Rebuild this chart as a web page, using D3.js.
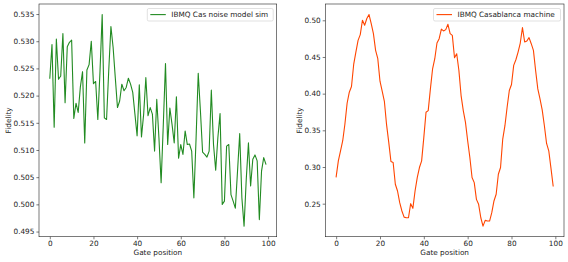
<!DOCTYPE html>
<html>
<head>
<meta charset="utf-8">
<script src="https://cdn.jsdelivr.net/npm/d3@7"></script>
<style>
  html, body { margin: 0; padding: 0; background: #fff; }
  svg { display: block; }
  text { font-family: "DejaVu Sans", sans-serif; fill: #222; }
</style>
</head>
<body>
<svg id="chart" width="568" height="262"></svg>
<script>
// ---- data ----
const simValues = [
  0.5232, 0.5294, 0.5142, 0.5304, 0.5230, 0.5236, 0.5314, 0.5187, 0.5290, 0.5298,
  0.5302, 0.5158, 0.5186, 0.5169, 0.5216, 0.5244, 0.5113, 0.5247, 0.5257, 0.5300,
  0.5222, 0.5226, 0.5156, 0.5245, 0.5349, 0.5159, 0.5156, 0.5246, 0.5327, 0.5289,
  0.5233, 0.5178, 0.5190, 0.5221, 0.5209, 0.5215, 0.5232, 0.5221, 0.5206, 0.5166,
  0.5126, 0.5220, 0.5124, 0.5166, 0.5233, 0.5163, 0.5178, 0.5166, 0.5098, 0.5193,
  0.5122, 0.5040, 0.5147, 0.5259, 0.5110, 0.5177, 0.5147, 0.5113, 0.5198, 0.5085,
  0.5110, 0.5092, 0.5135, 0.5110, 0.5111, 0.5098, 0.5012, 0.5120, 0.5241, 0.5172,
  0.5096, 0.5092, 0.5087, 0.5098, 0.5210, 0.5110, 0.5063, 0.5123, 0.5167, 0.5000,
  0.5006, 0.5107, 0.5110, 0.5018, 0.5006, 0.4993, 0.5061, 0.5130, 0.5012, 0.4960,
  0.5046, 0.5113, 0.5034, 0.5083, 0.5091, 0.5080, 0.4972, 0.5061, 0.5086, 0.5074
];
const machineValues = [
  0.2865, 0.3084, 0.3221, 0.3358, 0.3586, 0.3869, 0.4020, 0.4097, 0.4398, 0.4567,
  0.4727, 0.4805, 0.5001, 0.4932, 0.5024, 0.5078, 0.4955, 0.4818, 0.4590, 0.4476,
  0.4170, 0.4033, 0.3896, 0.3577, 0.3335, 0.3075, 0.3061, 0.2765, 0.2673, 0.2514,
  0.2400, 0.2317, 0.2308, 0.2308, 0.2500, 0.2436, 0.2673, 0.2856, 0.2993, 0.3084,
  0.3404, 0.3746, 0.3769, 0.4065, 0.4339, 0.4476, 0.4690, 0.4750, 0.4880, 0.4855,
  0.4873, 0.4946, 0.4818, 0.4795, 0.4490, 0.4544, 0.4316, 0.3974, 0.3769, 0.3609,
  0.3358, 0.3130, 0.2856, 0.2787, 0.2559, 0.2491, 0.2308, 0.2194, 0.2272, 0.2263,
  0.2263, 0.2377, 0.2537, 0.2628, 0.2901, 0.2993, 0.3381, 0.3563, 0.3814, 0.4043,
  0.4125, 0.4385, 0.4462, 0.4567, 0.4690, 0.4900, 0.4704, 0.4718, 0.4764, 0.4681,
  0.4590, 0.4316, 0.4065, 0.3929, 0.3778, 0.3563, 0.3321, 0.3221, 0.2984, 0.2742
];
const xTicks = [0, 20, 40, 60, 80, 100];
const simYTicks = [0.495, 0.500, 0.505, 0.510, 0.515, 0.520, 0.525, 0.530, 0.535];
const machineYTicks = [0.25, 0.30, 0.35, 0.40, 0.45, 0.50];
const simLabel = "IBMQ Cas noise model sim";
const machineLabel = "IBMQ Casablanca machine";
const xLabel = "Gate position";
const yLabel = "Fidelity";

// ---- drawing ----
const svg = d3.select("#chart");
const FS = 7.3;

function padded(ext) {
  const m = (ext[1] - ext[0]) * 0.05;
  return [ext[0] - m, ext[1] + m];
}

function panel(opts) {
  const { left, right, top, bottom, values, yTicks, yFmt, color, label, ylabelX, legend } = opts;
  const g = svg.append("g");
  const x = d3.scaleLinear().domain(padded([0, values.length - 1])).range([left, right]);
  const y = d3.scaleLinear().domain(padded(d3.extent(values))).range([bottom, top]);

  const line = d3.line().x((d, i) => x(i)).y(d => y(d));
  g.append("path").datum(values)
    .attr("d", line).attr("fill", "none")
    .attr("stroke", color).attr("stroke-width", 1.1)
    .attr("stroke-linejoin", "round").attr("stroke-linecap", "square");

  const xAxis = d3.axisBottom(x).tickValues(xTicks).tickFormat(d3.format("d"))
    .tickSize(2.6).tickPadding(2);
  const gx = g.append("g").attr("transform", `translate(0,${bottom})`).call(xAxis);
  const yAxis = d3.axisLeft(y).tickValues(yTicks).tickFormat(d3.format(yFmt))
    .tickSize(2.6).tickPadding(2);
  const gy = g.append("g").attr("transform", `translate(${left},0)`).call(yAxis);
  [gx, gy].forEach(a => {
    a.select(".domain").remove();
    a.selectAll(".tick line").attr("stroke", "#222").attr("stroke-width", 0.6);
    a.selectAll(".tick text").attr("font-size", FS).attr("fill", "#222")
      .attr("font-family", "DejaVu Sans, sans-serif");
  });

  // frame
  g.append("rect").attr("x", left).attr("y", top)
    .attr("width", right - left).attr("height", bottom - top)
    .attr("fill", "none").attr("stroke", "#222").attr("stroke-width", 0.6);

  // axis labels
  g.append("text").attr("x", (left + right) / 2).attr("y", 255)
    .attr("text-anchor", "middle").attr("font-size", FS).text(xLabel);
  g.append("text")
    .attr("transform", `translate(${ylabelX},${(top + bottom) / 2}) rotate(-90)`)
    .attr("text-anchor", "middle").attr("dy", "0.35em").attr("font-size", FS).text(yLabel);

  // legend
  const lg = g.append("g");
  lg.append("rect").attr("x", legend.x0).attr("y", 8.5)
    .attr("width", right - 3.5 - legend.x0).attr("height", 12.5)
    .attr("rx", 1.5).attr("fill", "#fff").attr("fill-opacity", 0.8)
    .attr("stroke", "#ccc").attr("stroke-width", 0.6);
  lg.append("line").attr("x1", legend.x0 + 3).attr("x2", legend.x0 + 18.5)
    .attr("y1", 14.6).attr("y2", 14.6)
    .attr("stroke", color).attr("stroke-width", 1.1);
  lg.append("text").attr("x", legend.x0 + 24).attr("y", 14.6).attr("dy", "0.35em")
    .attr("font-size", FS).text(label);
}

panel({ left: 39, right: 276.7, top: 4, bottom: 236.7, values: simValues,
  yTicks: simYTicks, yFmt: ".3f", color: "#228B22", label: simLabel,
  ylabelX: 8, legend: { x0: 147.3 } });
panel({ left: 325.3, right: 564, top: 4, bottom: 236.7, values: machineValues,
  yTicks: machineYTicks, yFmt: ".2f", color: "#FF4500", label: machineLabel,
  ylabelX: 299, legend: { x0: 433.5 } });
</script>
</body>
</html>
